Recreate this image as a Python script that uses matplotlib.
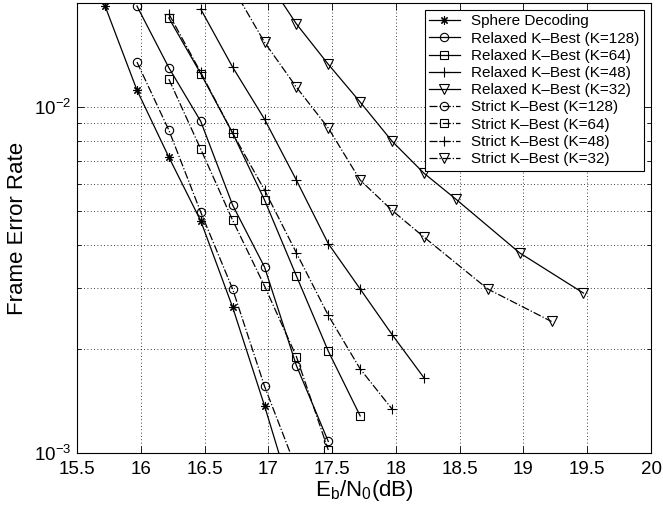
import matplotlib
matplotlib.use("Agg")
import matplotlib.pyplot as plt
from matplotlib.ticker import LogLocator, NullFormatter, MultipleLocator, FormatStrFormatter

plt.rcParams['font.family'] = ['Liberation Sans', 'DejaVu Sans']
plt.rcParams['mathtext.fontset'] = 'custom'
plt.rcParams['mathtext.rm'] = 'Liberation Sans'
plt.rcParams['mathtext.it'] = 'Liberation Sans'
plt.rcParams['mathtext.bf'] = 'Liberation Sans'

# ---- data ----
x_sd = [15.72, 15.97, 16.22, 16.47, 16.72, 16.97, 17.22]
fer_sd = [0.0196, 0.0112, 0.00717, 0.00469, 0.00264, 0.00137, 0.00068]

x_r128 = [15.97, 16.22, 16.47, 16.72, 16.97, 17.22, 17.47]
fer_r128 = [0.0196, 0.0130, 0.0091, 0.00521, 0.00345, 0.00179, 0.00108]

x_r64 = [16.22, 16.47, 16.72, 16.97, 17.22, 17.47, 17.72]
fer_r64 = [0.0181, 0.0125, 0.00841, 0.00539, 0.00325, 0.00197, 0.00128]

x_r48 = [16.47, 16.72, 16.97, 17.22, 17.47, 17.72, 17.97, 18.22]
fer_r48 = [0.0192, 0.01305, 0.00923, 0.00615, 0.00403, 0.00298, 0.0022, 0.00165]

x_r32 = [16.97, 17.22, 17.47, 17.72, 17.97, 18.22, 18.47, 18.97, 19.47]
fer_r32 = [0.024, 0.0174, 0.0133, 0.01034, 0.00797, 0.00644, 0.00542, 0.00379, 0.0029]

x_s128 = [15.97, 16.22, 16.47, 16.72, 16.97, 17.22]
fer_s128 = [0.0135, 0.00858, 0.00497, 0.00298, 0.00156, 0.0009]

x_s64 = [16.22, 16.47, 16.72, 16.97, 17.22, 17.47]
fer_s64 = [0.01205, 0.00756, 0.00471, 0.00304, 0.0019, 0.00102]

x_s48 = [16.22, 16.47, 16.72, 16.97, 17.22, 17.47, 17.72, 17.97]
fer_s48 = [0.0186, 0.0126, 0.00841, 0.00576, 0.00379, 0.0025, 0.00175, 0.00134]

x_s32 = [16.72, 16.97, 17.22, 17.47, 17.72, 17.97, 18.22, 18.72, 19.22]
fer_s32 = [0.0222, 0.0154, 0.01142, 0.0087, 0.00615, 0.00503, 0.00421, 0.00298, 0.0024]

labels = ["Sphere Decoding",
          "Relaxed K\u2013Best (K=128)", "Relaxed K\u2013Best (K=64)",
          "Relaxed K\u2013Best (K=48)", "Relaxed K\u2013Best (K=32)",
          "Strict K\u2013Best (K=128)", "Strict K\u2013Best (K=64)",
          "Strict K\u2013Best (K=48)", "Strict K\u2013Best (K=32)"]

series = [
    (x_sd, fer_sd, '-', (8, 2, 0)),
    (x_r128, fer_r128, '-', 'o'),
    (x_r64, fer_r64, '-', 's'),
    (x_r48, fer_r48, '-', '+'),
    (x_r32, fer_r32, '-', 'v'),
    (x_s128, fer_s128, '-.', 'o'),
    (x_s64, fer_s64, '-.', 's'),
    (x_s48, fer_s48, '-.', '+'),
    (x_s32, fer_s32, '-.', 'v'),
]

fig = plt.figure(figsize=(6.63, 5.16), dpi=100)
ax = fig.add_axes([77/663, 1 - 453/516, (651 - 77)/663, (453 - 3)/516])

for (xs, ys, ls, mk), lab in zip(series, labels):
    ms = 7 if mk in ('v', '+') else 6
    ax.plot(xs, ys, linestyle=ls, marker=mk, color='black', linewidth=0.9,
            markersize=ms, markerfacecolor='none', markeredgecolor='black',
            markeredgewidth=0.8, label=lab)

ax.set_yscale('log')
ax.set_xlim(15.5, 20)
ax.set_ylim(1e-3, 2e-2)
ax.xaxis.set_major_locator(MultipleLocator(0.5))
ax.xaxis.set_major_formatter(FormatStrFormatter('%g'))
ax.yaxis.set_minor_locator(LogLocator(base=10, subs=range(2, 10)))
ax.yaxis.set_minor_formatter(NullFormatter())

ax.grid(True, which='major', linestyle=(0, (1, 3)), color='black', linewidth=0.6)
ax.grid(True, which='minor', axis='y', linestyle=(0, (1, 3)), color='black', linewidth=0.6)

ax.tick_params(which='both', direction='in', top=True, right=True, labelsize=13.5)
ax.tick_params(which='major', length=5, width=0.6)
ax.tick_params(which='minor', length=3, width=0.6)
ax.tick_params(axis='x', which='major', pad=6)
ax.tick_params(axis='y', which='major', pad=4)
for s in ax.spines.values():
    s.set_linewidth(0.8)

ax.set_xlabel(r'$\mathregular{E_b/N_0(dB)}$', fontsize=16, labelpad=0)
ax.set_ylabel('Frame Error Rate', fontsize=16, labelpad=4)

leg = ax.legend(loc='upper right', fontsize=11, frameon=True, fancybox=False,
                edgecolor='black', framealpha=1, borderaxespad=0.45,
                labelspacing=0.21, handlelength=2.0, handletextpad=0.75,
                borderpad=0.3)
leg.get_frame().set_linewidth(0.8)

fig.savefig('out.png', dpi=100)
